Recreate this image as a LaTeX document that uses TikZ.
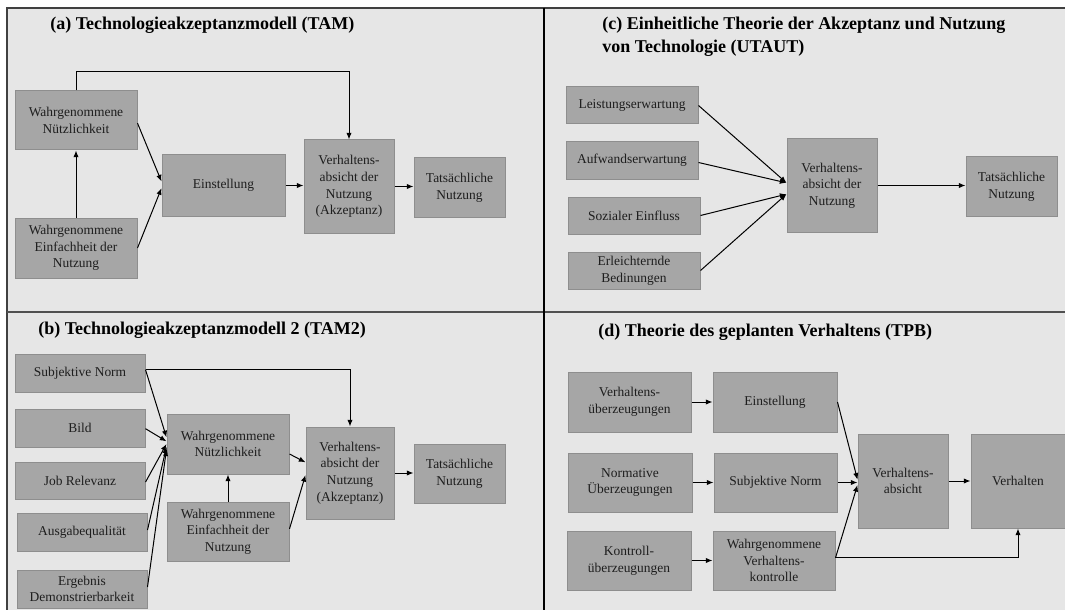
\documentclass[tikz,border=0pt]{standalone}
\usepackage{fontspec}
\setmainfont{Liberation Serif}
\usetikzlibrary{arrows.meta,calc}
\definecolor{panelbg}{HTML}{E6E6E6}
\definecolor{boxfill}{HTML}{A6A6A6}
\definecolor{boxline}{HTML}{8E8E8E}
\definecolor{frameline}{HTML}{404040}
\definecolor{divline}{HTML}{505050}
\definecolor{inktext}{HTML}{1E1E1E}

\begin{document}
\begin{tikzpicture}[x=0.75pt,y=-0.75pt,
  box/.style={draw=boxline, line width=0.75pt, fill=boxfill, inner sep=0pt,
    align=center, font=\fontsize{10.1}{12.5}\selectfont, text=inktext},
  % span={left}{top}{right}{bottom}: place a box over that pixel rectangle
  span/.style n args={4}{at={({(#1+#3)/2},{(#2+#4)/2})}, anchor=center,
    minimum width={(#3-#1)*0.75pt}, minimum height={(#4-#2)*0.75pt}},
  arr/.style={draw=black, line width=0.75pt, -{Latex[length=5pt,width=4pt]}},
  ptitle/.style={inner sep=0pt, anchor=west, align=left, text=black,
    font=\fontsize{13.5}{17.25}\selectfont\bfseries}]

% page and panel frame
\useasboundingbox (0,0) rectangle (1065,610);
\clip (0,0) rectangle (1065,610);
\fill[white] (0,0) rectangle (1065,610);
\draw[frameline, line width=1.5pt, fill=panelbg] (7,8) rectangle (1075,620);
\draw[divline, line width=1.5pt] (7,312) -- (1075,312);
\draw[black, line width=1.5pt] (544,8) -- (544,620);

% ---------- (a) TAM ----------
\node[ptitle] (ta) at (50,25) {(a) Technologieakzeptanzmodell (TAM)};
\node[box, span={15}{91}{137}{150}] (aWN) {Wahrgenommene\\Nützlichkeit};
\node[box, span={15}{218}{137}{278}] (aWE) {Wahrgenommene\\Einfachheit der\\Nutzung};
\node[box, span={162}{155}{285}{216}] (aE) {Einstellung};
\node[box, span={304}{140}{394}{233}] (aV) {Verhaltens-\\absicht der\\Nutzung\\(Akzeptanz)};
\node[box, span={414}{158}{505}{217}] (aT) {Tatsächliche\\Nutzung};

\draw[arr] (aWN.north) -- ++(0,-19) -| (aV.north);
\draw[arr] (aWE.north) -- (aWN.south);
\draw[arr] ([yshift=-2pt]aWN.east) -- ([yshift=3pt]aE.west);
\draw[arr] (aWE.east) -- ([yshift=-2pt]aE.west);
\draw[arr] (aE.east) -- (aE.east -| aV.west);
\draw[arr] (aV.east) -- (aV.east -| aT.west);

% ---------- (c) UTAUT ----------
\node[ptitle] (tc) at (602,36.5) {(c) Einheitliche Theorie der Akzeptanz und Nutzung\\von Technologie (UTAUT)};
\node[box, span={566}{87}{698}{124}] (cLE) {Leistungserwartung};
\node[box, span={566}{142}{698}{179}] (cAE) {Aufwandserwartung};
\node[box, span={568}{197}{700}{234}] (cSE) {Sozialer Einfluss};
\node[box, span={568}{252}{700}{289}] (cEB) {Erleichternde\\Bedinungen};
\node[box, span={787}{139}{877}{232}] (cV) {Verhaltens-\\absicht der\\Nutzung};
\node[box, span={966}{157}{1057}{216}] (cT) {Tatsächliche\\Nutzung};

\draw[arr] (cLE.east) -- ([yshift=2pt]cV.west);
\draw[arr] ([yshift=-1.5pt]cAE.east) -- ([yshift=2pt]cV.west);
\draw[arr] (cSE.east) -- ([yshift=-6.5pt]cV.west);
\draw[arr] (cEB.east) -- ([yshift=-6.5pt]cV.west);
\draw[arr] (cV.east) -- (cV.east -| cT.west);

% ---------- (b) TAM2 ----------
\node[ptitle] (tb) at (38,330) {(b) Technologieakzeptanzmodell 2 (TAM2)};
\node[box, span={15}{354}{145}{392}] (bSN) {Subjektive Norm};
\node[box, span={15}{409}{145}{447}] (bBI) {Bild};
\node[box, span={15}{462}{145}{499}] (bJR) {Job Relevanz};
\node[box, span={17}{513}{147}{551}] (bAQ) {Ausgabequalität};
\node[box, span={17}{570}{147}{608}] (bED) {Ergebnis\\Demonstrierbarkeit};
\node[box, span={167}{414}{289}{474}] (bWN) {Wahrgenommene\\Nützlichkeit};
\node[box, span={167}{502}{289}{561}] (bWE) {Wahrgenommene\\Einfachheit der\\Nutzung};
\node[box, span={306}{427}{394}{519}] (bV) {Verhaltens-\\absicht der\\Nutzung\\(Akzeptanz)};
\node[box, span={414}{444}{505}{503}] (bT) {Tatsächliche\\Nutzung};

\draw[arr] ([yshift=2.5pt]bSN.east) -| (bV.north);
\draw[arr] ([yshift=2.5pt]bSN.east) -- ([yshift=5pt]bWN.west);
\draw[arr] ([yshift=-0.5pt]bBI.east) -- ([yshift=2pt]bWN.west);
\draw[arr] ([yshift=-1.2pt]bJR.east) -- ([yshift=0pt]bWN.west);
\draw[arr] ([yshift=1.5pt]bAQ.east) -- ([yshift=-2pt]bWN.west);
\draw[arr] ([yshift=1.5pt]bED.east) -- ([yshift=-4pt]bWN.west);
\draw[arr] ([yshift=-7.5pt]bWN.east) -- ([yshift=8pt]bV.west);
\draw[arr] ([yshift=2pt]bWE.east) -- ([yshift=-1.5pt]bV.west);
\draw[arr] (bWE.north) -- (bWE.north |- bWN.south);
\draw[arr] (bV.east) -- (bV.east -| bT.west);

% ---------- (d) TPB ----------
\node[ptitle] (td) at (598,332) {(d) Theorie des geplanten Verhaltens (TPB)};
\node[box, span={568}{372}{691}{432}] (dVU) {Verhaltens-\\überzeugungen};
\node[box, span={713}{372}{837}{432}] (dE) {Einstellung};
\node[box, span={568}{453}{692}{512}] (dNU) {Normative\\Überzeugungen};
\node[box, span={714}{453}{837}{512}] (dSN) {Subjektive Norm};
\node[box, span={567}{531}{691}{590}] (dKU) {Kontroll-\\überzeugungen};
\node[box, span={713}{531}{835}{590}] (dWV) {Wahrgenommene\\Verhaltens-\\kontrolle};
\node[box, span={858}{434}{948}{528}] (dVA) {Verhaltens-\\absicht};
\node[box, span={971}{434}{1065}{528}] (dVH) {Verhalten};

\draw[arr] (dVU.east) -- (dVU.east -| dE.west);
\draw[arr] (dNU.east) -- (dNU.east -| dSN.west);
\draw[arr] (dKU.east) -- (dKU.east -| dWV.west);
\draw[arr] (dE.east) -- ([yshift=1pt]dVA.west);
\draw[arr] (dSN.east) -- (dSN.east -| dVA.west);
\draw[arr] ([yshift=2pt]dWV.east) -- ([yshift=-3pt]dVA.west);
\draw[arr] ([yshift=2pt]dWV.east) -| (dVH.south);
\draw[arr] (dVA.east) -- (dVA.east -| dVH.west);

\end{tikzpicture}
\end{document}
